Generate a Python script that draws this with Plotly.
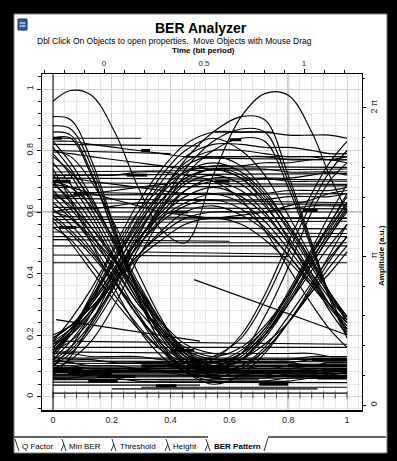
import math
import plotly.graph_objects as go

# ---------------- data ----------------
# sample positions along the time axis (bottom axis units)
x_ctrl = [0, 0.06, 0.13, 0.21, 0.29, 0.37, 0.45, 0.545, 0.64, 0.72, 0.80, 0.88, 0.94, 1.0]

falling_low = [
    [0.79, 0.72, 0.61, 0.47, 0.32, 0.20, 0.11, 0.07, 0.07, 0.07, 0.08, 0.08, 0.08, 0.09],
    [0.72, 0.66, 0.57, 0.44, 0.31, 0.21, 0.13, 0.10, 0.10, 0.10, 0.09, 0.09, 0.09, 0.08],
    [0.65, 0.59, 0.50, 0.38, 0.26, 0.15, 0.08, 0.05, 0.05, 0.05, 0.05, 0.06, 0.06, 0.06],
    [0.58, 0.53, 0.46, 0.37, 0.28, 0.20, 0.15, 0.12, 0.12, 0.12, 0.12, 0.12, 0.11, 0.11],
    [0.83, 0.76, 0.65, 0.50, 0.35, 0.22, 0.13, 0.09, 0.09, 0.09, 0.09, 0.10, 0.10, 0.10],
    [0.61, 0.56, 0.48, 0.37, 0.26, 0.17, 0.11, 0.08, 0.08, 0.08, 0.08, 0.08, 0.07, 0.07],
    [0.69, 0.64, 0.55, 0.44, 0.33, 0.24, 0.17, 0.14, 0.14, 0.14, 0.14, 0.14, 0.13, 0.13],
    [0.91, 0.90, 0.77, 0.55, 0.33, 0.17, 0.09, 0.07, 0.07, 0.08, 0.08, 0.08, 0.09, 0.09],
    [0.86, 0.85, 0.73, 0.52, 0.32, 0.17, 0.09, 0.06, 0.06, 0.06, 0.07, 0.07, 0.07, 0.08],
    [0.84, 0.84, 0.72, 0.53, 0.35, 0.21, 0.13, 0.11, 0.11, 0.11, 0.11, 0.10, 0.10, 0.10],
    [0.80, 0.78, 0.70, 0.56, 0.40, 0.25, 0.14, 0.09, 0.09, 0.10, 0.10, 0.10, 0.11, 0.11],
    [0.66, 0.62, 0.55, 0.45, 0.33, 0.22, 0.13, 0.08, 0.08, 0.08, 0.07, 0.07, 0.08, 0.08],
    [0.74, 0.64, 0.50, 0.35, 0.22, 0.13, 0.08, 0.06, 0.06, 0.06, 0.06, 0.06, 0.06, 0.06],
    [0.78, 0.73, 0.64, 0.50, 0.36, 0.24, 0.15, 0.11, 0.11, 0.11, 0.11, 0.12, 0.12, 0.12],
]

falling_rising = [
    [0.76, 0.69, 0.59, 0.45, 0.31, 0.20, 0.12, 0.08, 0.12, 0.20, 0.31, 0.44, 0.54, 0.63],
    [0.67, 0.61, 0.53, 0.42, 0.30, 0.21, 0.14, 0.11, 0.14, 0.20, 0.30, 0.41, 0.49, 0.56],
    [0.55, 0.51, 0.43, 0.33, 0.23, 0.15, 0.09, 0.06, 0.09, 0.15, 0.24, 0.34, 0.42, 0.49],
    [0.81, 0.74, 0.63, 0.49, 0.35, 0.23, 0.14, 0.10, 0.14, 0.22, 0.34, 0.48, 0.59, 0.69],
    [0.63, 0.58, 0.51, 0.41, 0.30, 0.22, 0.16, 0.13, 0.16, 0.23, 0.33, 0.45, 0.53, 0.62],
    [0.70, 0.63, 0.53, 0.40, 0.27, 0.16, 0.08, 0.04, 0.07, 0.14, 0.24, 0.35, 0.44, 0.52],
    [0.59, 0.54, 0.47, 0.37, 0.26, 0.18, 0.12, 0.09, 0.12, 0.17, 0.24, 0.34, 0.40, 0.47],
    [0.88, 0.87, 0.75, 0.54, 0.34, 0.19, 0.11, 0.09, 0.12, 0.20, 0.32, 0.46, 0.56, 0.65],
    [0.60, 0.58, 0.52, 0.44, 0.35, 0.24, 0.15, 0.10, 0.14, 0.26, 0.42, 0.60, 0.70, 0.76],
    [0.70, 0.68, 0.62, 0.51, 0.37, 0.24, 0.14, 0.10, 0.12, 0.19, 0.30, 0.43, 0.52, 0.60],
    [0.57, 0.50, 0.41, 0.31, 0.22, 0.15, 0.11, 0.10, 0.13, 0.21, 0.33, 0.46, 0.55, 0.63],
]

rising_high = [
    [0.15, 0.21, 0.30, 0.42, 0.54, 0.64, 0.71, 0.74, 0.74, 0.74, 0.73, 0.73, 0.73, 0.72],
    [0.18, 0.22, 0.30, 0.40, 0.49, 0.58, 0.63, 0.66, 0.66, 0.66, 0.67, 0.67, 0.67, 0.68],
    [0.13, 0.20, 0.31, 0.45, 0.58, 0.70, 0.78, 0.82, 0.82, 0.81, 0.81, 0.80, 0.79, 0.79],
    [0.19, 0.23, 0.29, 0.38, 0.46, 0.53, 0.58, 0.60, 0.60, 0.60, 0.61, 0.62, 0.62, 0.62],
    [0.14, 0.20, 0.28, 0.40, 0.51, 0.60, 0.67, 0.70, 0.70, 0.71, 0.71, 0.72, 0.73, 0.73],
    [0.18, 0.25, 0.35, 0.49, 0.63, 0.74, 0.82, 0.86, 0.86, 0.86, 0.85, 0.85, 0.85, 0.84],
    [0.09, 0.12, 0.18, 0.30, 0.45, 0.58, 0.67, 0.71, 0.71, 0.71, 0.70, 0.70, 0.70, 0.70],
    [0.14, 0.21, 0.33, 0.48, 0.60, 0.68, 0.73, 0.75, 0.75, 0.76, 0.76, 0.77, 0.77, 0.78],
    [0.10, 0.16, 0.27, 0.41, 0.55, 0.67, 0.76, 0.80, 0.80, 0.79, 0.78, 0.78, 0.77, 0.77],
]

rising_falling = [
    [0.16, 0.22, 0.31, 0.44, 0.57, 0.67, 0.75, 0.78, 0.75, 0.67, 0.56, 0.44, 0.34, 0.25],
    [0.19, 0.23, 0.31, 0.41, 0.51, 0.59, 0.65, 0.68, 0.65, 0.59, 0.50, 0.40, 0.32, 0.25],
    [0.12, 0.18, 0.27, 0.39, 0.51, 0.61, 0.69, 0.72, 0.69, 0.62, 0.52, 0.40, 0.30, 0.22],
    [0.16, 0.21, 0.28, 0.37, 0.46, 0.54, 0.60, 0.62, 0.59, 0.54, 0.46, 0.36, 0.29, 0.22],
    [0.15, 0.21, 0.32, 0.46, 0.60, 0.72, 0.80, 0.84, 0.80, 0.72, 0.59, 0.45, 0.34, 0.24],
    [0.20, 0.23, 0.29, 0.37, 0.45, 0.51, 0.56, 0.58, 0.56, 0.51, 0.44, 0.36, 0.30, 0.24],
    [0.17, 0.22, 0.32, 0.44, 0.56, 0.66, 0.73, 0.76, 0.73, 0.66, 0.56, 0.44, 0.34, 0.26],
    [0.12, 0.16, 0.24, 0.37, 0.52, 0.66, 0.77, 0.86, 0.91, 0.90, 0.72, 0.50, 0.33, 0.20],
    [0.15, 0.18, 0.25, 0.36, 0.50, 0.63, 0.74, 0.83, 0.87, 0.86, 0.70, 0.49, 0.33, 0.21],
    [0.10, 0.14, 0.22, 0.34, 0.48, 0.61, 0.72, 0.80, 0.84, 0.83, 0.68, 0.48, 0.32, 0.19],
    [0.11, 0.15, 0.23, 0.36, 0.50, 0.62, 0.70, 0.74, 0.72, 0.65, 0.54, 0.42, 0.33, 0.25],
    [0.07, 0.13, 0.24, 0.39, 0.53, 0.64, 0.71, 0.74, 0.71, 0.63, 0.51, 0.38, 0.28, 0.20],
    [0.17, 0.20, 0.27, 0.38, 0.49, 0.57, 0.62, 0.64, 0.61, 0.55, 0.46, 0.37, 0.30, 0.24],
]

high_rail = [
    [0.795, 0.79, 0.78, 0.77, 0.76, 0.75, 0.74, 0.74, 0.71, 0.64, 0.55, 0.43, 0.34, 0.26],
    [0.65, 0.65, 0.66, 0.67, 0.68, 0.69, 0.70, 0.70, 0.67, 0.60, 0.50, 0.39, 0.30, 0.22],
    [0.71, 0.71, 0.70, 0.69, 0.68, 0.67, 0.66, 0.66, 0.63, 0.57, 0.48, 0.38, 0.30, 0.23],
    [0.83, 0.83, 0.82, 0.81, 0.80, 0.79, 0.78, 0.78, 0.78, 0.78, 0.77, 0.77, 0.77, 0.76],
    [0.60, 0.61, 0.61, 0.62, 0.63, 0.63, 0.64, 0.64, 0.64, 0.64, 0.65, 0.65, 0.65, 0.66],
    [0.69, 0.68, 0.66, 0.64, 0.62, 0.60, 0.59, 0.58, 0.59, 0.60, 0.62, 0.64, 0.66, 0.67],
    [0.72, 0.72, 0.72, 0.72, 0.73, 0.73, 0.72, 0.70, 0.64, 0.54, 0.42, 0.30, 0.22, 0.16],
]

low_rail = [
    [0.08, 0.08, 0.08, 0.09, 0.09, 0.09, 0.09, 0.09, 0.12, 0.20, 0.30, 0.43, 0.52, 0.61],
    [0.12, 0.11, 0.10, 0.10, 0.09, 0.08, 0.07, 0.07, 0.10, 0.16, 0.26, 0.37, 0.45, 0.52],
    [0.06, 0.06, 0.07, 0.08, 0.09, 0.10, 0.11, 0.11, 0.15, 0.22, 0.33, 0.47, 0.56, 0.66],
    [0.10, 0.10, 0.09, 0.09, 0.09, 0.08, 0.08, 0.08, 0.08, 0.08, 0.08, 0.09, 0.09, 0.09],
    [0.14, 0.14, 0.13, 0.13, 0.13, 0.12, 0.12, 0.12, 0.12, 0.12, 0.12, 0.13, 0.13, 0.13],
    [0.06, 0.06, 0.06, 0.06, 0.05, 0.05, 0.05, 0.05, 0.05, 0.05, 0.06, 0.06, 0.06, 0.07],
    [0.09, 0.09, 0.09, 0.09, 0.09, 0.09, 0.10, 0.12, 0.20, 0.33, 0.50, 0.66, 0.76, 0.83],
    [0.13, 0.12, 0.12, 0.11, 0.11, 0.11, 0.11, 0.13, 0.19, 0.31, 0.47, 0.63, 0.73, 0.80],
    [0.07, 0.07, 0.07, 0.08, 0.08, 0.08, 0.08, 0.08, 0.10, 0.15, 0.24, 0.36, 0.46, 0.56],
]

outlier_curve = [0.96, 0.995, 0.98, 0.86, 0.68, 0.54, 0.50, 0.72, 0.91, 0.985, 0.98, 0.86, 0.72, 0.60]

# straight (nearly horizontal) segments of the pattern
rail_x0 = [0, 0.45, 0, 0, 0, 0, 0, 0, 0, 0, 0, 0, 0, 0, 0, 0, 0.30, 0, 0.55, 0,
           0, 0, 0, 0, 0, 0, 0, 0, 0, 0, 0, 0, 0, 0.20, 0, 0.01, 0.48,
           0, 0.5, 0, 0, 0, 0, 0, 0, 0.2, 0, 0, 0, 0, 0, 0, 0, 0.3]
rail_x1 = [0.40, 1.0, 1.0, 1.0, 1.0, 1.0, 1.0, 1.0, 1.0, 1.0, 1.0, 1.0, 1.0, 0.60, 1.0, 1.0, 1.0, 0.30, 0.75, 0.70,
           1.0, 1.0, 1.0, 1.0, 1.0, 1.0, 1.0, 1.0, 1.0, 1.0, 1.0, 0.50, 1.0, 0.90, 0.60, 0.50, 1.0,
           0.5, 1.0, 1.0, 1.0, 1.0, 1.0, 1.0, 1.0, 1.0, 0.8, 1.0, 1.0, 1.0, 1.0, 1.0, 0.7, 1.0]
rail_y0 = [0.80, 0.78, 0.75, 0.73, 0.71, 0.68, 0.645, 0.63, 0.60, 0.585, 0.565, 0.55, 0.52, 0.51, 0.49, 0.435, 0.47, 0.84, 0.86, 0.665,
           0.18, 0.16, 0.125, 0.108, 0.10, 0.092, 0.085, 0.078, 0.070, 0.063, 0.047, 0.037, 0.011, 0.025, 0.145, 0.25, 0.38,
           0.82, 0.775, 0.72, 0.695, 0.655, 0.615, 0.575, 0.535, 0.50, 0.46,
           0.115, 0.095, 0.081, 0.073, 0.067, 0.055, 0.03]
rail_y1 = [0.79, 0.78, 0.745, 0.74, 0.705, 0.685, 0.63, 0.625, 0.60, 0.58, 0.57, 0.545, 0.52, 0.505, 0.49, 0.435, 0.46, 0.84, 0.86, 0.655,
           0.17, 0.16, 0.125, 0.105, 0.098, 0.09, 0.085, 0.075, 0.068, 0.065, 0.045, 0.037, 0.011, 0.025, 0.14, 0.18, 0.20,
           0.815, 0.77, 0.725, 0.69, 0.66, 0.61, 0.58, 0.53, 0.50, 0.455,
           0.113, 0.096, 0.080, 0.074, 0.066, 0.056, 0.03]

# short heavy dashes
dash_x0 = [0.00, 0.07, 0.02, 0.55, 0.40, 0.85, 0.30, 0.60, 0.12, 0.70, 0.40, 0.90, 0.00, 0.25,
           0.00, 0.30, 0.62, 0.05, 0.45, 0.80, 0.15, 0.35, 0.88]
dash_x1 = [0.03, 0.12, 0.08, 0.60, 0.46, 0.90, 0.33, 0.64, 0.22, 0.80, 0.48, 1.00, 0.06, 0.32,
           0.10, 0.45, 0.75, 0.20, 0.60, 1.00, 0.28, 0.42, 1.00]
dash_y = [0.84, 0.66, 0.55, 0.70, 0.60, 0.605, 0.80, 0.835, 0.05, 0.04, 0.15, 0.06, 0.70, 0.72,
          0.09, 0.10, 0.08, 0.075, 0.095, 0.10, 0.065, 0.035, 0.12]

base_tick_x = [0, 0.04, 0.08, 0.12, 0.16, 0.2, 0.24, 0.28, 0.32, 0.36, 0.4, 0.44, 0.48,
               0.52, 0.56, 0.6, 0.64, 0.68, 0.72, 0.76, 0.8, 0.84, 0.88, 0.92, 0.96, 1.0]

threshold_level = 0.6
decision_time = 0.8

phase_ticks = [0, math.pi, 2 * math.pi]
phase_labels = ["0", "π", "2 π"]

tab_names = ["Q Factor", "Min BER", "Threshold", "Height", "BER Pattern"]
tab_centers_px = [37, 85, 138, 185, 237]
tab_edges_px = [15, 62, 112, 166, 206]

# ---------------- layout geometry ----------------
W, H = 397, 461
BX0, BX1, BY0, BY1 = 42, 362, 74, 410
X_RANGE = [-0.0374, 1.051]
Y_RANGE = [-0.0439, 1.0488]
T_RANGE = [-0.31, 1.29]
P_RANGE = [-0.1058, 7.002]
FONT = "Arial, 'Liberation Sans', sans-serif"


def fx(px):
    return (px - BX0) / (BX1 - BX0)


def fy(py):
    return (BY1 - py) / (BY1 - BY0)


fig = go.Figure()

line_style = dict(color="black", width=1.15, shape="spline", smoothing=1.0)
for group in (falling_low, falling_rising, rising_high, rising_falling, high_rail, low_rail, [outlier_curve]):
    for row in group:
        fig.add_trace(go.Scatter(x=x_ctrl, y=row, mode="lines", line=line_style,
                                 hoverinfo="skip", showlegend=False))

sx, sy = [], []
for a, b, c, d in zip(rail_x0, rail_x1, rail_y0, rail_y1):
    sx += [a, b, None]
    sy += [c, d, None]
fig.add_trace(go.Scatter(x=sx, y=sy, mode="lines", line=dict(color="black", width=1.15),
                         hoverinfo="skip", showlegend=False))

dx, dy = [], []
for a, b, c in zip(dash_x0, dash_x1, dash_y):
    dx += [a, b, None]
    dy += [c, c, None]
fig.add_trace(go.Scatter(x=dx, y=dy, mode="lines", line=dict(color="black", width=3),
                         hoverinfo="skip", showlegend=False))

fig.add_trace(go.Scatter(x=base_tick_x, y=[0.005] * len(base_tick_x), mode="markers",
                         marker=dict(symbol="line-ns", size=5, line=dict(color="#444", width=1)),
                         hoverinfo="skip", showlegend=False))

# overlay subplot for the time (bit period) and phase axes
fig.add_trace(go.Scatter(x=[], y=[], xaxis="x2", yaxis="y2", showlegend=False))

tickfont = dict(family=FONT, size=9, color="#222")
fig.update_layout(
    width=W, height=H,
    margin=dict(l=BX0, r=W - BX1, t=BY0, b=H - BY1, autoexpand=False),
    paper_bgcolor="black", plot_bgcolor="white",
    font=dict(family=FONT, color="black"),
    xaxis=dict(range=X_RANGE, tick0=0, dtick=0.2, showgrid=True, gridcolor="#d2d2d2", gridwidth=1,
               minor=dict(tick0=0, dtick=0.04, showgrid=True, gridcolor="#e8e8e8", gridwidth=1),
               zeroline=False, showline=True, linecolor="black", linewidth=2, ticks="",
               tickfont=tickfont),
    yaxis=dict(range=Y_RANGE, tick0=0, dtick=0.2, showgrid=True, gridcolor="#d2d2d2", gridwidth=1,
               minor=dict(tick0=0, dtick=0.04, showgrid=True, gridcolor="#e8e8e8", gridwidth=1,
                          ticks="outside", ticklen=3, tickcolor="black"),
               zeroline=False, showline=True, linecolor="black", linewidth=1,
               ticks="outside", ticklen=4, tickcolor="black", tickangle=-90, tickfont=tickfont),
    xaxis2=dict(range=T_RANGE, overlaying="x", side="top", anchor="y", tick0=0, dtick=0.5,
                showgrid=False, zeroline=False, showline=True, linecolor="black", linewidth=1,
                ticks="outside", ticklen=4, tickcolor="black",
                minor=dict(tick0=0, dtick=0.1, ticks="outside", ticklen=3, tickcolor="black", showgrid=False),
                tickfont=dict(family=FONT, size=8, color="#222")),
    yaxis2=dict(range=P_RANGE, overlaying="y", side="right", anchor="x",
                tickmode="array", tickvals=phase_ticks, ticktext=phase_labels, tickangle=-90,
                showgrid=False, zeroline=False, showline=True, linecolor="black", linewidth=1,
                ticks="outside", ticklen=3, tickcolor="black",
                minor=dict(tick0=0, dtick=math.pi / 5, ticks="outside", ticklen=2, tickcolor="black", showgrid=False),
                tickfont=tickfont),
)

shapes = []
# window panel
shapes.append(dict(type="rect", xref="paper", yref="paper", x0=fx(14), x1=fx(387), y0=fy(453), y1=fy(14),
                   fillcolor="white", line=dict(color="#7a7a7a", width=1), layer="below"))
# threshold and decision lines
shapes.append(dict(type="line", xref="paper", yref="y", x0=fx(27), x1=1, y0=threshold_level, y1=threshold_level,
                   line=dict(color="#bdbdbd", width=2), layer="below"))
shapes.append(dict(type="line", xref="x", yref="paper", x0=decision_time, x1=decision_time, y0=0, y1=1,
                   line=dict(color="#bdbdbd", width=2), layer="below"))
# inner left frame line at t = 0
shapes.append(dict(type="line", xref="x", yref="paper", x0=0, x1=0, y0=0, y1=1,
                   line=dict(color="black", width=1)))
# tab strip
shapes.append(dict(type="line", xref="paper", yref="paper", x0=fx(14), x1=fx(208), y0=fy(437), y1=fy(437),
                   line=dict(color="#303030", width=1.5)))
shapes.append(dict(type="line", xref="paper", yref="paper", x0=fx(268), x1=fx(386), y0=fy(437), y1=fy(437),
                   line=dict(color="#303030", width=1.5)))
for e in tab_edges_px:
    shapes.append(dict(type="line", xref="paper", yref="paper", x0=fx(e), x1=fx(e + 4), y0=fy(439), y1=fy(451),
                       line=dict(color="#303030", width=1)))
    if e > 20:
        shapes.append(dict(type="line", xref="paper", yref="paper", x0=fx(e + 2), x1=fx(e - 1), y0=fy(444), y1=fy(451),
                           line=dict(color="#303030", width=1)))
shapes.append(dict(type="line", xref="paper", yref="paper", x0=fx(268), x1=fx(264), y0=fy(438), y1=fy(451),
                   line=dict(color="#303030", width=1)))
# window icon
shapes.append(dict(type="rect", xref="paper", yref="paper", x0=fx(18), x1=fx(27), y0=fy(30), y1=fy(19),
                   fillcolor="#3458b0", line=dict(color="#1d2f66", width=1)))
for yy in (23, 26):
    shapes.append(dict(type="line", xref="paper", yref="paper", x0=fx(19.5), x1=fx(25.5), y0=fy(yy), y1=fy(yy),
                       line=dict(color="white", width=1)))
fig.update_layout(shapes=shapes)

ann = []
ann.append(dict(text="<b>BER Analyzer</b>", xref="paper", yref="paper", x=fx(201), y=fy(28),
                showarrow=False, font=dict(family=FONT, size=14, color="black"), xanchor="center", yanchor="middle"))
ann.append(dict(text="Dbl Click On Objects to open properties.  Move Objects with Mouse Drag",
                xref="paper", yref="paper", x=fx(35), y=fy(41), showarrow=False,
                font=dict(family=FONT, size=8.5, color="black"), xanchor="left", yanchor="middle"))
ann.append(dict(text="<b>Time (bit period)</b>", xref="paper", yref="paper", x=fx(203), y=fy(50),
                showarrow=False, font=dict(family=FONT, size=8, color="black"), xanchor="center", yanchor="middle"))
ann.append(dict(text="<b>Amplitude (a.u.)</b>", xref="paper", yref="paper", x=fx(381), y=fy(256),
                showarrow=False, textangle=-90, font=dict(family=FONT, size=8, color="black"),
                xanchor="center", yanchor="middle"))
for name, cx in zip(tab_names, tab_centers_px):
    txt = "<b>%s</b>" % name if name == "BER Pattern" else name
    ann.append(dict(text=txt, xref="paper", yref="paper", x=fx(cx), y=fy(446), showarrow=False,
                    font=dict(family=FONT, size=8, color="black"), xanchor="center", yanchor="middle"))
fig.update_layout(annotations=ann)

fig.write_html("out.html")
